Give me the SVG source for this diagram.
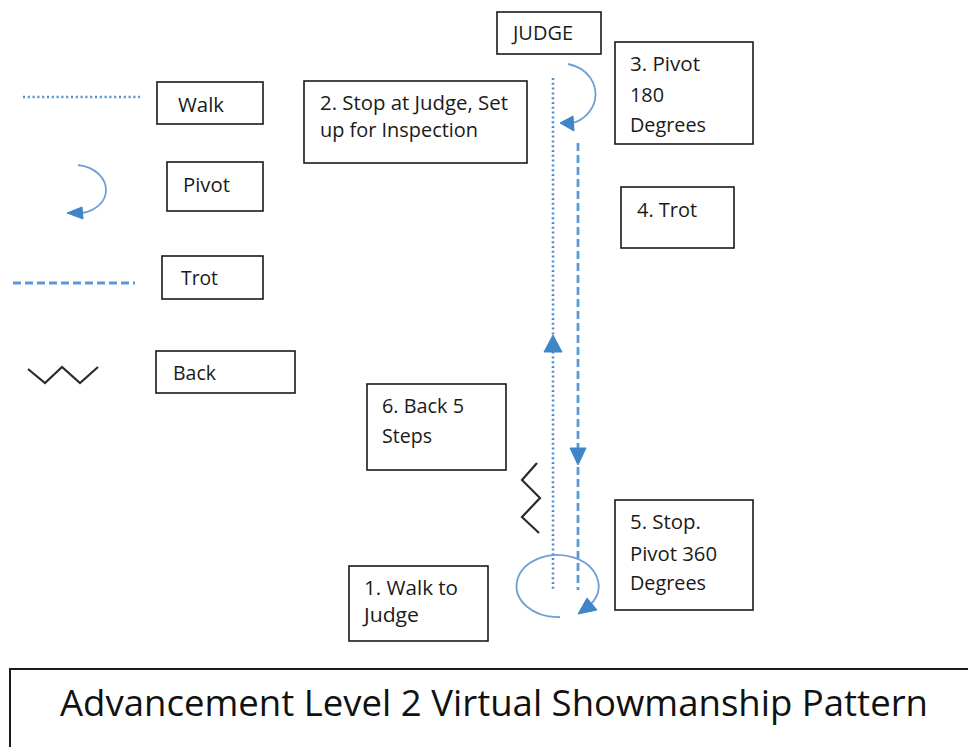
<svg xmlns="http://www.w3.org/2000/svg" width="968" height="747" viewBox="0 0 968 747">
  <style>
    .box { fill: #ffffff; stroke: #1a1a1a; stroke-width: 1.6; }
    .t { font-family: "Open Sans", "Liberation Sans", sans-serif; font-size: 20px; fill: #1a1a1a; }
    .walk { fill: none; stroke: #4f8fd0; stroke-width: 2.6; stroke-dasharray: 2 2.8; }
    .trot { fill: none; stroke: #5b9bd5; stroke-width: 2.8; stroke-dasharray: 8 4; }
    .pivot { fill: none; stroke: #729fd3; stroke-width: 1.8; }
    .head { fill: #3f86c9; stroke: #3f86c9; stroke-width: 1; stroke-linejoin: round; }
    .back { fill: none; stroke: #2b2b2b; stroke-width: 2.2; stroke-linejoin: miter; }
  </style>
  <rect width="968" height="747" fill="#ffffff"/>

  <!-- Legend -->
  <g id="legend">
    <line class="walk" x1="23" y1="97" x2="140" y2="97"/>
    <path class="pivot" d="M78,165 C95,167 106,178 106,190 C106,202 96,210 83,213"/>
    <polygon class="head" points="67,213 82,207 83,219"/>
    <line class="trot" x1="13" y1="283" x2="135" y2="283"/>
    <polyline class="back" points="28,369 45,383 62,367 80,383 98,367"/>
  </g>

  <g id="legend-walk">
    <rect class="box" x="157" y="82" width="106" height="42"/>
    <text class="t" x="178" y="112" textLength="46" lengthAdjust="spacingAndGlyphs">Walk</text>
  </g>
  <g id="legend-pivot">
    <rect class="box" x="167" y="162" width="96" height="49"/>
    <text class="t" x="183" y="192" textLength="47" lengthAdjust="spacingAndGlyphs">Pivot</text>
  </g>
  <g id="legend-trot">
    <rect class="box" x="162" y="256" width="101" height="43"/>
    <text class="t" x="181" y="285" textLength="37" lengthAdjust="spacingAndGlyphs">Trot</text>
  </g>
  <g id="legend-back">
    <rect class="box" x="156" y="351" width="139" height="42"/>
    <text class="t" x="173" y="380" textLength="43" lengthAdjust="spacingAndGlyphs">Back</text>
  </g>

  <!-- Pattern connectors -->
  <g id="connectors">
    <line class="walk" x1="553" y1="78" x2="553" y2="590"/>
    <polygon class="head" points="553,335 544,352 562,352"/>
    <line class="trot" x1="578" y1="143" x2="578" y2="590"/>
    <polygon class="head" points="570,448 586,448 578,465"/>
    <path class="pivot" d="M568,64 C588,68 598,84 595,100 C592,112 583,120 573,123"/>
    <polygon class="head" points="560,123 573,116 574,131"/>
    <path class="pivot" d="M560,617 A41,31 0 1 1 591,604"/>
    <polygon class="head" points="578,614 587,598 597,610"/>
    <polyline class="back" points="537,463 522,480 540,498 522,517 539,533"/>
  </g>

  <!-- Nodes -->
  <g id="judge">
    <rect class="box" x="497" y="12" width="104" height="42"/>
    <text class="t" x="513" y="40" textLength="60" lengthAdjust="spacingAndGlyphs">JUDGE</text>
  </g>
  <g id="step2">
    <rect class="box" x="304" y="81" width="223" height="82"/>
    <text class="t" x="320" y="110" textLength="188" lengthAdjust="spacingAndGlyphs">2. Stop at Judge, Set</text>
    <text class="t" x="320" y="137" textLength="158" lengthAdjust="spacingAndGlyphs">up for Inspection</text>
  </g>
  <g id="step3">
    <rect class="box" x="615" y="42" width="138" height="102"/>
    <text class="t" x="630" y="71" textLength="70" lengthAdjust="spacingAndGlyphs">3. Pivot</text>
    <text class="t" x="630" y="102" textLength="34" lengthAdjust="spacingAndGlyphs">180</text>
    <text class="t" x="630" y="132" textLength="76" lengthAdjust="spacingAndGlyphs">Degrees</text>
  </g>
  <g id="step4">
    <rect class="box" x="621" y="187" width="113" height="61"/>
    <text class="t" x="637" y="217" textLength="60" lengthAdjust="spacingAndGlyphs">4. Trot</text>
  </g>
  <g id="step6">
    <rect class="box" x="367" y="384" width="139" height="86"/>
    <text class="t" x="382" y="413" textLength="82" lengthAdjust="spacingAndGlyphs">6. Back 5</text>
    <text class="t" x="382" y="443" textLength="50" lengthAdjust="spacingAndGlyphs">Steps</text>
  </g>
  <g id="step5">
    <rect class="box" x="615" y="500" width="138" height="110"/>
    <text class="t" x="630" y="529" textLength="71" lengthAdjust="spacingAndGlyphs">5. Stop.</text>
    <text class="t" x="630" y="561" textLength="87" lengthAdjust="spacingAndGlyphs">Pivot 360</text>
    <text class="t" x="630" y="590" textLength="76" lengthAdjust="spacingAndGlyphs">Degrees</text>
  </g>
  <g id="step1">
    <rect class="box" x="349" y="566" width="139" height="75"/>
    <text class="t" x="364" y="595" textLength="94" lengthAdjust="spacingAndGlyphs">1. Walk to</text>
    <text class="t" x="364" y="622" textLength="55" lengthAdjust="spacingAndGlyphs">Judge</text>
  </g>

  <g id="title">
    <rect x="10" y="669" width="980" height="100" fill="#ffffff" stroke="#1a1a1a" stroke-width="2"/>
    <text x="60" y="716" font-family="Open Sans, Liberation Sans, sans-serif" font-size="36" fill="#111111" textLength="868" lengthAdjust="spacingAndGlyphs">Advancement Level 2 Virtual Showmanship Pattern</text>
  </g>
</svg>
